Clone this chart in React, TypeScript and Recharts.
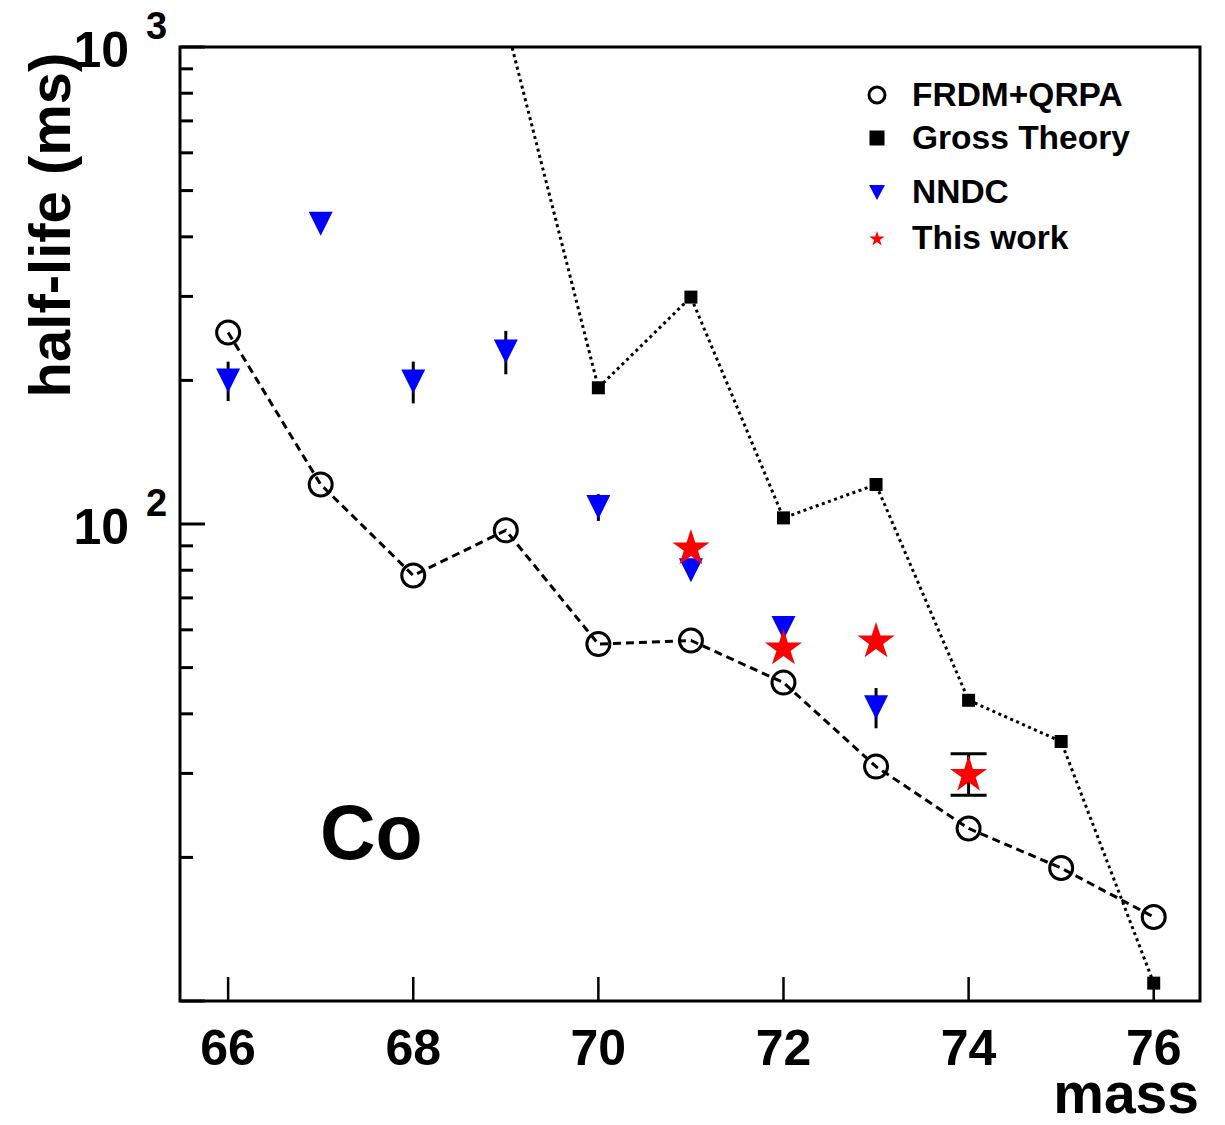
import React from 'react';
import { ScatterChart, Scatter, XAxis, YAxis, ErrorBar, Legend, ReferenceArea, Label } from 'recharts';

const FONT = "'Liberation Sans', Arial, Helvetica, sans-serif";

// FRDM+QRPA predictions
const frdmMass = [66, 67, 68, 69, 70, 71, 72, 73, 74, 75, 76];
const frdmHalfLife = [252, 121, 78, 97, 56, 57, 46.5, 31, 23, 19, 15];

// Gross Theory predictions (69 is above the frame)
const grossMass = [69, 70, 71, 72, 73, 74, 75, 76];
const grossHalfLife = [1125, 193, 299, 103, 121, 42.7, 35, 10.9];

// NNDC evaluated values
const nndcMass = [66, 67, 68, 69, 70, 71, 72, 73];
const nndcHalfLife = [200, 426, 199, 230, 108.5, 80, 60.5, 41.3];
const nndcErr = [19, 0, 20, 24, 7, 0, 0, 4];

// This work
const thisMass = [71, 72, 73, 74];
const thisHalfLife = [89.5, 55.2, 57.1, 30];
const thisErr = [0, 0, 0, 3];

const xTicks = [66, 68, 70, 72, 74, 76];
const yTicks = [10, 20, 30, 40, 50, 60, 70, 80, 90, 100, 200, 300, 400, 500, 600, 700, 800, 900, 1000];
const yMajor = [100, 1000];

const toPoints = (mass: number[], t: number[], err?: number[]) =>
  mass.map((m, i) => ({ mass: m, t: t[i], err: err ? err[i] : 0 }));

const frdmData = toPoints(frdmMass, frdmHalfLife);
const grossData = toPoints(grossMass, grossHalfLife);
const nndcData = toPoints(nndcMass, nndcHalfLife, nndcErr);
const thisData = toPoints(thisMass, thisHalfLife, thisErr);

const PLOT_LEFT = 180;
const PLOT_BOTTOM = 1001;

const circleShape = (p: any) => (
  <circle cx={p.cx} cy={p.cy} r={11.5} fill="none" stroke="#000" strokeWidth={3} />
);
const squareShape = (p: any) => <rect x={p.cx - 6.5} y={p.cy - 6.5} width={13} height={13} fill="#000" />;
const triangleShape = (p: any) => (
  <polygon
    points={`${p.cx - 12},${p.cy - 12} ${p.cx + 12},${p.cy - 12} ${p.cx},${p.cy + 12}`}
    fill="#0000ff"
  />
);

const starPoints = (cx: number, cy: number, R: number) => {
  const r = R * 0.382;
  const pts: string[] = [];
  for (let i = 0; i < 10; i++) {
    const rad = i % 2 === 0 ? R : r;
    const a = -Math.PI / 2 + (i * Math.PI) / 5;
    pts.push(`${cx + rad * Math.cos(a)},${cy + rad * Math.sin(a)}`);
  }
  return pts.join(' ');
};
const starShape = (p: any) => <polygon points={starPoints(p.cx, p.cy + 1.5, 19.5)} fill="#ff0000" />;

const YTick = (props: any) => {
  const { y, payload } = props;
  const v = payload.value;
  const major = v === 100 || v === 1000 || v === 10;
  const exp = Math.round(Math.log10(v));
  return (
    <g>
      <line x1={PLOT_LEFT} x2={PLOT_LEFT + (major ? 25 : 13)} y1={y} y2={y} stroke="#000" strokeWidth={3} />
      {yMajor.includes(v) && (
        <g fontFamily={FONT} fontWeight="bold" fill="#000">
          <text x={129} y={y + 20} textAnchor="end" fontSize={50}>10</text>
          <text x={146} y={y - 8} textAnchor="start" fontSize={38}>{exp}</text>
        </g>
      )}
    </g>
  );
};

const XTick = (props: any) => {
  const { x, payload } = props;
  return (
    <g>
      <line x1={x} x2={x} y1={PLOT_BOTTOM} y2={PLOT_BOTTOM - 24} stroke="#000" strokeWidth={2.5} />
      <text x={x} y={1065} textAnchor="middle" fontFamily={FONT} fontWeight="bold" fontSize={50} fill="#000">
        {payload.value}
      </text>
    </g>
  );
};

const legendRows = [
  { name: 'FRDM+QRPA', baseline: 36, center: 25 },
  { name: 'Gross Theory', baseline: 79, center: 68 },
  { name: 'NNDC', baseline: 133, center: 122 },
  { name: 'This work', baseline: 179, center: 168 },
];

const legendIcon = (name: string, cx: number, cy: number) => {
  if (name === 'FRDM+QRPA') return <circle cx={cx} cy={cy} r={8} fill="none" stroke="#000" strokeWidth={3} />;
  if (name === 'Gross Theory') return <rect x={cx - 7.5} y={cy - 7.5} width={15} height={15} fill="#000" />;
  if (name === 'NNDC')
    return <polygon points={`${cx - 8},${cy - 7} ${cx + 8},${cy - 7} ${cx},${cy + 8}`} fill="#0000ff" />;
  return <polygon points={starPoints(cx, cy + 1, 8)} fill="#ff0000" />;
};

const renderLegend = () => (
  <svg width={360} height={200}>
    {legendRows.map((row) => (
      <g key={row.name}>
        {legendIcon(row.name, 27, row.center)}
        <text x={62} y={row.baseline} fontFamily={FONT} fontWeight="bold" fontSize={33.5} fill="#000">
          {row.name}
        </text>
      </g>
    ))}
  </svg>
);

export default function App() {
  return (
    <div style={{ position: 'absolute', left: 0, top: 0, width: 1225, height: 1125, background: '#fff' }}>
      <ScatterChart width={1225} height={1125} margin={{ top: 47, right: 25, bottom: 10, left: 0 }}>
        <XAxis
          type="number"
          dataKey="mass"
          domain={[65.48, 76.5]}
          allowDataOverflow
          ticks={xTicks}
          interval={0}
          tick={XTick}
          tickLine={false}
          axisLine={false}
          tickSize={0}
          height={114}
        >
          <Label
            content={() => (
              <g fontFamily={FONT} fontWeight="bold" fill="#000">
                <text x={1199} y={1113} textAnchor="end" fontSize={57}>mass</text>
                <text x={320} y={859} textAnchor="start" fontSize={77}>Co</text>
              </g>
            )}
          />
        </XAxis>
        <YAxis
          type="number"
          dataKey="t"
          scale="log"
          domain={[10, 1000]}
          allowDataOverflow
          ticks={yTicks}
          interval={0}
          tick={YTick}
          tickLine={false}
          axisLine={false}
          tickSize={0}
          width={180}
        >
          <Label
            content={() => (
              <text
                x={70}
                y={225}
                transform="rotate(-90 70 225)"
                textAnchor="middle"
                fontFamily={FONT}
                fontWeight="bold"
                fontSize={58}
                fill="#000"
              >
                half-life (ms)
              </text>
            )}
          />
        </YAxis>
        <ReferenceArea
          x1={65.48}
          x2={76.5}
          y1={10}
          y2={1000}
          fill="none"
          stroke="#000"
          strokeWidth={3}
          ifOverflow="visible"
        />
        <Legend
          layout="horizontal"
          verticalAlign="middle"
          align="center"
          wrapperStyle={{ left: 850, top: 70, width: 360, height: 200 }}
          content={renderLegend}
        />
        <Scatter
          name="FRDM+QRPA"
          data={frdmData}
          shape={circleShape}
          line={{ stroke: '#000', strokeWidth: 3, strokeDasharray: '8 5' }}
          isAnimationActive={false}
        />
        <Scatter
          name="Gross Theory"
          data={grossData}
          shape={squareShape}
          line={{ stroke: '#000', strokeWidth: 3, strokeDasharray: '3 3.5' }}
          isAnimationActive={false}
        />
        <Scatter name="NNDC" data={nndcData} shape={triangleShape} isAnimationActive={false}>
          <ErrorBar dataKey="err" direction="y" width={0} stroke="#000" strokeWidth={3} isAnimationActive={false} />
        </Scatter>
        <Scatter name="This work" data={thisData} shape={starShape} isAnimationActive={false}>
          <ErrorBar dataKey="err" direction="y" width={18} stroke="#000" strokeWidth={3} isAnimationActive={false} />
        </Scatter>
      </ScatterChart>
    </div>
  );
}
